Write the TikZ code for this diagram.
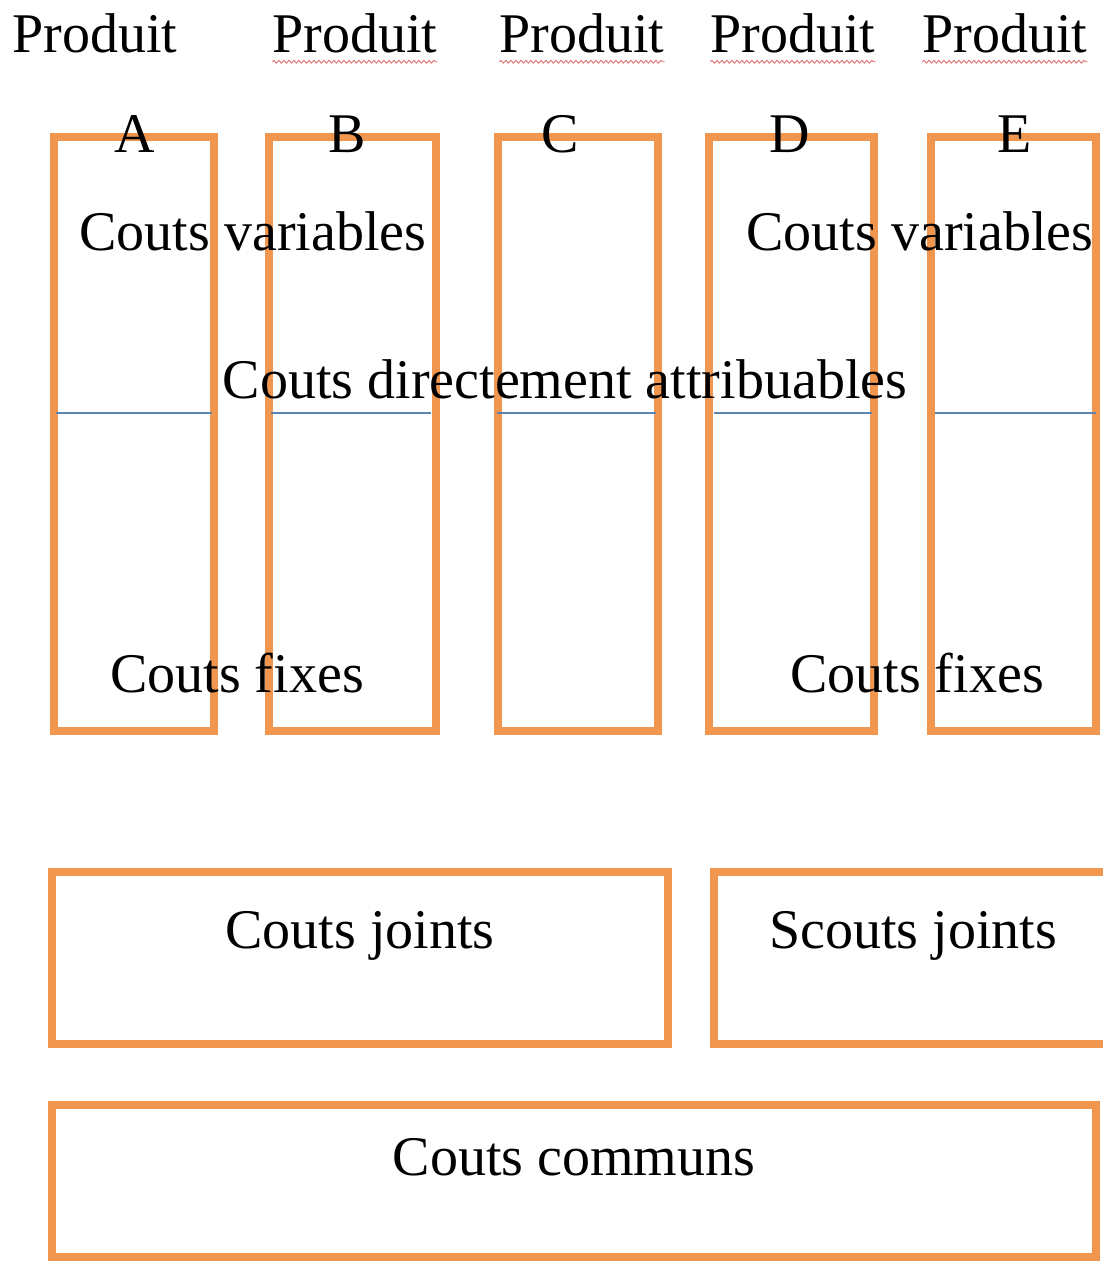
\documentclass[tikz,border=0pt]{standalone}
\usepackage{fontspec}
\setmainfont{Liberation Serif}
\usetikzlibrary{decorations.pathmorphing}
\definecolor{boxorange}{HTML}{F0964E}
\definecolor{lineblue}{HTML}{5B85AE}
\definecolor{squig}{HTML}{E07070}
\begin{document}
\begin{tikzpicture}[x=1pt,y=-1pt,
  obox/.style={draw=boxorange,line width=8pt,rectangle,inner sep=0pt},
  lbl/.style={inner sep=0pt,anchor=base,font=\fontsize{56}{60}\selectfont},
  sep/.style={draw=lineblue,line width=1.6pt},
  wavy/.style={draw=squig,line width=0.9pt,decorate,decoration={snake,amplitude=1.4pt,segment length=5pt}}]
\useasboundingbox (0,0) rectangle (1103,1261);
% column boxes
\node[obox,minimum width=160pt,minimum height=594pt] (colA) at (134,434) {};
\node[obox,minimum width=167pt,minimum height=594pt] (colB) at (352,434) {};
\node[obox,minimum width=160pt,minimum height=594pt] (colC) at (578,434) {};
\node[obox,minimum width=165pt,minimum height=594pt] (colD) at (791.5,434) {};
\node[obox,minimum width=165pt,minimum height=594pt] (colE) at (1013.5,434) {};
% bottom boxes
\node[obox,minimum width=616pt,minimum height=172pt] (joints) at (360,958) {};
\node[obox,minimum width=400pt,minimum height=172pt] (sjoints) at (914,958) {};
\node[obox,minimum width=1044pt,minimum height=152pt] (communs) at (574,1181) {};
% separator lines
\coordinate (sA1) at (56,413); \coordinate (sA2) at (212,413);
\coordinate (sB1) at (271,413); \coordinate (sB2) at (431,413);
\coordinate (sC1) at (497,413); \coordinate (sC2) at (656,413);
\coordinate (sD1) at (714,413); \coordinate (sD2) at (872,413);
\coordinate (sE1) at (935,413); \coordinate (sE2) at (1096,413);
\draw[sep] (sA1) -- (sA2);
\draw[sep] (sB1) -- (sB2);
\draw[sep] (sC1) -- (sC2);
\draw[sep] (sD1) -- (sD2);
\draw[sep] (sE1) -- (sE2);
% header labels
\node[lbl] (pA) at (95,52) {Produit};
\node[lbl] (pB) at (355,52) {Produit};
\node[lbl] (pC) at (582,52) {Produit};
\node[lbl] (pD) at (793,52) {Produit};
\node[lbl] (pE) at (1005,52) {Produit};
\draw[wavy] ([yshift=-9pt]pB.south west) -- ([yshift=-9pt]pB.south east);
\draw[wavy] ([yshift=-9pt]pC.south west) -- ([yshift=-9pt]pC.south east);
\draw[wavy] ([yshift=-9pt]pD.south west) -- ([yshift=-9pt]pD.south east);
\draw[wavy] ([yshift=-9pt]pE.south west) -- ([yshift=-9pt]pE.south east);
\node[lbl] (lA) at (135,152) {A};
\node[lbl] (lB) at (347,152) {B};
\node[lbl] (lC) at (560,152) {C};
\node[lbl] (lD) at (790,152) {D};
\node[lbl] (lE) at (1015,152) {E};
% cost labels
\node[lbl] (cv1) at (253,250) {Couts variables};
\node[lbl] (cv2) at (920,250) {Couts variables};
\node[lbl] (cda) at (565,398) {Couts directement attribuables};
\node[lbl] (cf1) at (237,692) {Couts fixes};
\node[lbl] (cf2) at (917,692) {Couts fixes};
\node[lbl] (cj) at (360,948) {Couts joints};
\node[lbl] (sj) at (913,948) {Scouts joints};
\node[lbl] (cc) at (574,1175) {Couts communs};
\end{tikzpicture}
\end{document}
